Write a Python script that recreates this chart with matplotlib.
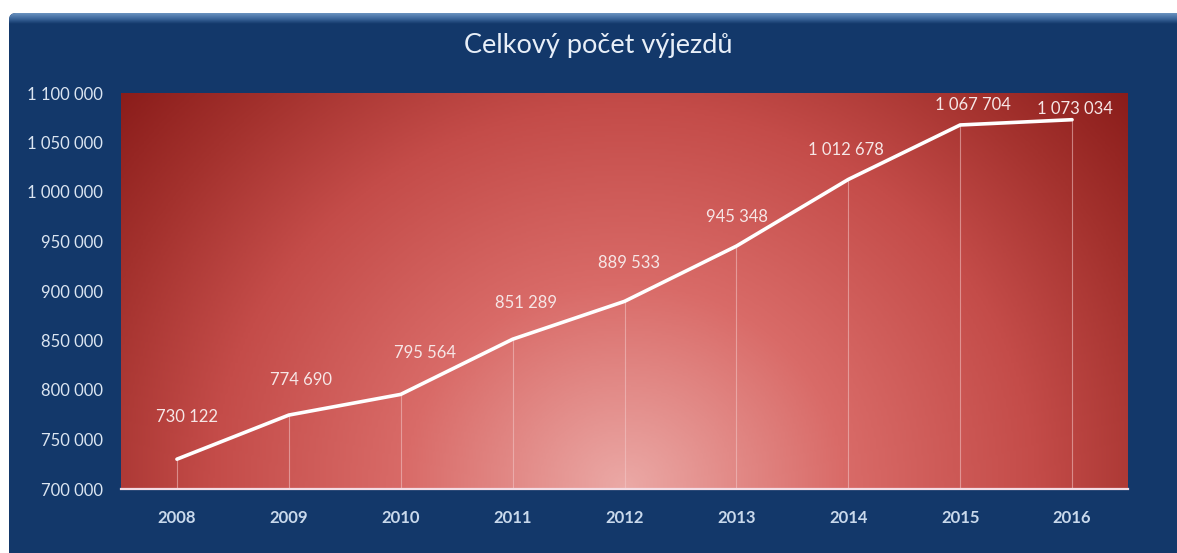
import matplotlib.pyplot as plt
import numpy as np
from matplotlib.colors import LinearSegmentedColormap
from matplotlib.patches import FancyBboxPatch
from matplotlib.ticker import FuncFormatter

plt.rcParams["font.family"] = ["Lato", "DejaVu Sans"]

years = ["2008", "2009", "2010", "2011", "2012", "2013", "2014", "2015", "2016"]
vyjezdy = [730122, 774690, 795564, 851289, 889533, 945348, 1012678, 1067704, 1073034]

# label offsets from each point, in pixels (dx, dy)
label_offsets = [(10, 42), (12, 35), (24, 41), (13, 36), (5, 38),
                 (1, 29), (-2, 29), (13, 20), (3, 11)]

W, H = 1177, 553
PANEL = "#13386a"

fig = plt.figure(figsize=(W / 100, H / 100), dpi=100)
fig.patch.set_facecolor("white")

# blue panel behind everything
bg = fig.add_axes([0, 0, 1, 1], zorder=-1)
bg.set_xlim(0, W)
bg.set_ylim(H, 0)
bg.axis("off")
panel = FancyBboxPatch((9, 13), W + 20, H + 20,
                       boxstyle="round,pad=0,rounding_size=7",
                       facecolor=PANEL, edgecolor="none")
bg.add_patch(panel)
# lighter bevel along the top edge
band = np.linspace(0, 1, 30)[:, None]
top_cmap = LinearSegmentedColormap.from_list("top", ["#6a92bf", "#3d689c", PANEL])
im = bg.imshow(band, cmap=top_cmap, extent=(9, W, 24, 13), aspect="auto",
               interpolation="bilinear", zorder=2)
im.set_clip_path(panel)

ax = fig.add_axes([121 / W, 1 - 489 / H, (1128 - 121) / W, (489 - 93) / H])
ax.set_facecolor("none")

# radial red glow, brightest at the bottom centre
gx, gy = np.meshgrid(np.linspace(0, 1, 400), np.linspace(0, 1, 200))
r = np.sqrt(((gx - 0.5) / 0.55) ** 2 + (gy / 1.3) ** 2)
r = np.clip(r / 1.2, 0, 1)
red_cmap = LinearSegmentedColormap.from_list(
    "glow",
    [(0.0, "#eba9a6"), (0.33, "#d96b68"), (0.62, "#c44c49"),
     (0.83, "#a3312d"), (1.0, "#8a1c1a")])
ax.imshow(r, cmap=red_cmap, vmin=0, vmax=1, origin="lower",
          extent=(0, 1, 0, 1), transform=ax.transAxes, aspect="auto",
          interpolation="bilinear", zorder=0)

x = np.arange(len(years))
ax.vlines(x, 700000, vyjezdy, color="#f4c8c8", lw=0.8, alpha=0.55, zorder=1)
ax.plot(x, vyjezdy, color="white", lw=2.6, solid_capstyle="round", zorder=3)

for xi, v, (dx, dy) in zip(x, vyjezdy, label_offsets):
    ax.annotate(f"{v:,}".replace(",", " "), (xi, v), xytext=(dx, dy),
                textcoords="offset pixels", ha="center", va="center",
                color="#f6e6e6", fontsize=12, zorder=4)

ax.set_xlim(-0.5, len(years) - 0.5)
ax.set_ylim(700000, 1100000)
ax.set_yticks(np.arange(700000, 1100001, 50000))
ax.yaxis.set_major_formatter(FuncFormatter(lambda v, p: f"{v:,.0f}".replace(",", " ")))
ax.set_xticks(x)
ax.set_xticklabels(years, fontweight="bold")

ax.tick_params(axis="y", length=0, pad=13, labelsize=12, colors="#dbe5f1")
ax.tick_params(axis="x", length=0, pad=15, labelsize=12, colors="#c9d9ec")
for side in ["top", "right", "left"]:
    ax.spines[side].set_visible(False)
ax.spines["bottom"].set_color("#f3dbe3")
ax.spines["bottom"].set_linewidth(1.6)
ax.spines["bottom"].set_zorder(5)

fig.text(598 / W, 1 - 45 / H, "Celkový počet výjezdů", ha="center", va="center",
         color="#e8eff8", fontsize=19.5)

fig.savefig("out.png", dpi=100, facecolor=fig.get_facecolor())
